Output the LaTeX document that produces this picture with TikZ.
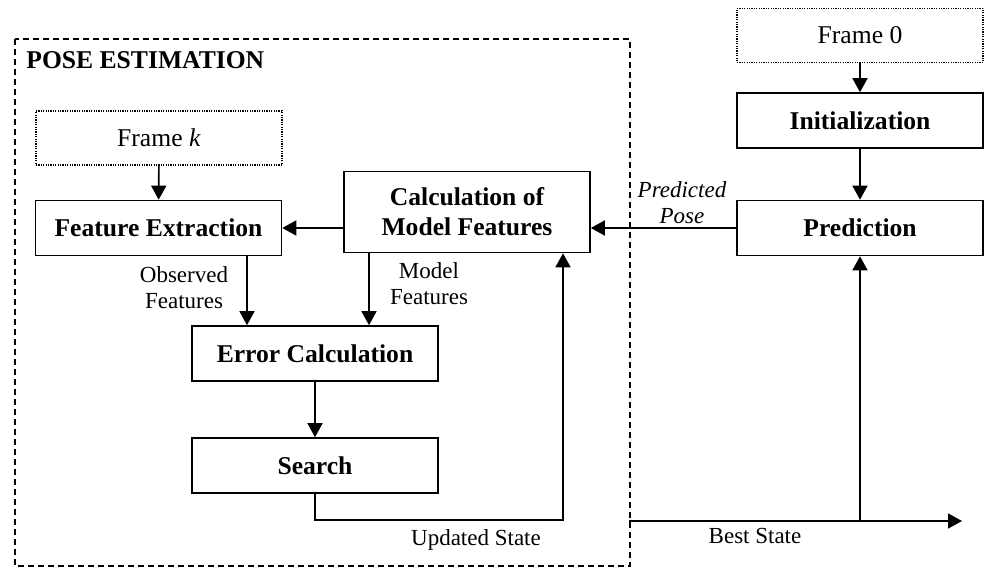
\documentclass[tikz,border=0pt]{standalone}
\usepackage{fontspec}
\setmainfont{Liberation Serif}
\usetikzlibrary{arrows.meta}

\begin{document}
\begin{tikzpicture}[x=0.5pt,y=-0.5pt,
		box/.style={draw, line width=0.8pt, minimum width=123pt, minimum height=27.5pt, inner sep=1pt, align=center, font=\fontsize{12.8}{15}\selectfont\bfseries},
		framebox/.style={draw, line width=0.8pt, dash pattern=on 0.6pt off 0.6pt, minimum width=123pt, minimum height=27pt, font=\fontsize{12.8}{15}\selectfont},
		lbl/.style={align=center, inner sep=0pt, font=\fontsize{11.5}{13}\selectfont},
		arr/.style={line width=0.8pt, -{Triangle[length=7pt,width=7.5pt]}},
		ln/.style={line width=0.8pt}]
	\useasboundingbox (0,0) rectangle (984,567);
	
	\draw[line width=0.6pt, dash pattern=on 3pt off 2pt] (15,39) rectangle (630,566);
	\node[font=\fontsize{12.8}{15}\selectfont\bfseries, anchor=west, inner sep=0pt] (title) at (26,60) {POSE ESTIMATION};
	
	\node[framebox] (frmk) at (159,138) {Frame \textit{k}};
	\node[box] (featext) at (158.5,228) {Feature Extraction};
	\node[box, minimum height=40.5pt] (calcmod) at (467,212) {Calculation of\\Model Features};
	\node[box] (errcalc) at (315,353.5) {Error Calculation};
	\node[box] (search) at (315,465.5) {Search};
	
	\node[framebox] (frm0) at (860,35.5) {Frame 0};
	\node[box] (init) at (860,120.5) {Initialization};
	\node[box] (pred) at (860,228) {Prediction};
	
	\coordinate (obsx) at (247,0);
	\coordinate (modx) at (369,0);
	\coordinate (upd) at (563,520);
	\coordinate (bsl) at (629,521);
	\coordinate (bsr) at (962,521);
	
	\draw[arr] (frmk) -- (featext);
	\draw[arr] (calcmod.west |- featext) -- (featext.east);
	\draw[arr] (pred.west) -- (pred.west -| calcmod.east);
	\draw[arr] (featext.south -| obsx) -- (errcalc.north -| obsx);
	\draw[arr] (calcmod.south -| modx) -- (errcalc.north -| modx);
	\draw[arr] (errcalc) -- (search);
	\draw[arr] (search.south) |- (upd) -- (upd |- calcmod.south);
	\draw[arr] (frm0) -- (init);
	\draw[arr] (init) -- (pred);
	\draw[arr] (bsl) -- (bsr);
	\draw[arr] (bsl -| pred) -- (pred.south);
	
	\node[lbl] (obslbl) at (184,288) {Observed\\Features};
	\node[lbl] (modlbl) at (429,284) {Model\\Features};
	\node[lbl, font=\fontsize{11.5}{13}\selectfont\itshape] (predlbl) at (682,203) {Predicted\\Pose};
	\node[lbl] (updlbl) at (476,540) {Updated State};
	\node[lbl] (bestlbl) at (755,536) {Best State};
\end{tikzpicture}
\end{document}
